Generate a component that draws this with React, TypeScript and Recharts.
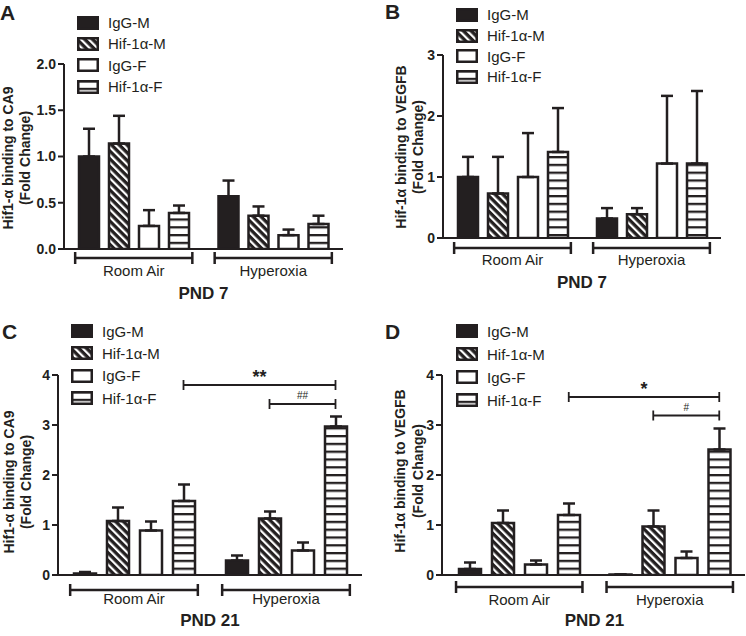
import React from 'react'
import { BarChart, Bar, XAxis, YAxis, ErrorBar, Legend, ReferenceLine } from 'recharts'

const INK = '#231f20'
const FONT = '"Liberation Sans", Arial, Helvetica, sans-serif'

const groups = ['Room Air', 'Hyperoxia']
const seriesNames = ['IgG-M', 'Hif-1α-M', 'IgG-F', 'Hif-1α-F']
const seriesKeys = ['igm', 'hifm', 'igf', 'hiff']
const seriesFills = [INK, 'url(#diagStripe)', '#ffffff', 'url(#hStripe)']

// rows = groups (Room Air, Hyperoxia), columns = series
const ca9Pnd7Mean = [
  [1.0, 1.14, 0.25, 0.39],
  [0.57, 0.36, 0.15, 0.27],
]
const ca9Pnd7Sem = [
  [0.3, 0.3, 0.17, 0.08],
  [0.17, 0.1, 0.06, 0.09],
]
const vegfbPnd7Mean = [
  [1.0, 0.73, 1.0, 1.41],
  [0.32, 0.39, 1.22, 1.22],
]
const vegfbPnd7Sem = [
  [0.33, 0.6, 0.72, 0.72],
  [0.17, 0.1, 1.11, 1.19],
]
const ca9Pnd21Mean = [
  [0.03, 1.08, 0.89, 1.48],
  [0.29, 1.13, 0.49, 2.97],
]
const ca9Pnd21Sem = [
  [0.03, 0.27, 0.18, 0.33],
  [0.1, 0.14, 0.16, 0.2],
]
const vegfbPnd21Mean = [
  [0.12, 1.04, 0.21, 1.2],
  [0.01, 0.97, 0.34, 2.51],
]
const vegfbPnd21Sem = [
  [0.13, 0.25, 0.08, 0.23],
  [0, 0.32, 0.13, 0.42],
]

const ticksPnd7Ca9 = [0, 0.5, 1, 1.5, 2]
const ticksPnd7Vegfb = [0, 1, 2, 3]
const ticksPnd21 = [0, 1, 2, 3, 4]

// significance brackets: from [group, series] to [group, series] at height y
const ca9Pnd21Sig = [
  { from: [0, 3], to: [1, 3], y: 3.8, mark: '**' },
  { from: [1, 1], to: [1, 3], y: 3.42, mark: '##' },
]
const vegfbPnd21Sig = [
  { from: [0, 3], to: [1, 3], y: 3.56, mark: '*' },
  { from: [1, 1], to: [1, 3], y: 3.19, mark: '#' },
]

function buildRows(means: number[][], sems: number[][]) {
  return groups.map((g, gi) => {
    const row: any = { group: g }
    seriesKeys.forEach((k, si) => {
      row[k] = means[gi][si]
      row[k + 'Err'] = [0, sems[gi][si]]
    })
    return row
  })
}

const W = 373
const H = 318
const X_AXIS_H = 60

const panels = [
  {
    letter: 'A', left: 0, top: 0, letterX: 0, letterY: 2,
    plotLeft: 64, plotRight: 343, plotTop: 64, plotBottom: 249, padLeft: 0,
    barSize: 20, barGap: 10, domain: [0, 2], ticks: ticksPnd7Ca9, decimals: 1,
    rows: buildRows(ca9Pnd7Mean, ca9Pnd7Sem), sig: [] as any[],
    yLabel: ['Hif1-α binding to CA9', '(Fold Change)'], yLabelX: [13, 30], yLabelCY: 158,
    bracketDy: 9, labelDy: 27, title: 'PND 7', titleDy: 50,
    legendX: 77, legendY: 12, legendRow: 21.3,
  },
  {
    letter: 'B', left: 373, top: 0, letterX: 12, letterY: 1,
    plotLeft: 70, plotRight: 348, plotTop: 55, plotBottom: 238, padLeft: 0,
    barSize: 20, barGap: 10, domain: [0, 3], ticks: ticksPnd7Vegfb, decimals: 0,
    rows: buildRows(vegfbPnd7Mean, vegfbPnd7Sem), sig: [] as any[],
    yLabel: ['Hif-1α binding to VEGFB', '(Fold Change)'], yLabelX: [33, 50], yLabelCY: 147,
    bracketDy: 10, labelDy: 27, title: 'PND 7', titleDy: 50,
    legendX: 83, legendY: 4.5, legendRow: 20.7,
  },
  {
    letter: 'C', left: 0, top: 318, letterX: 2, letterY: 3,
    plotLeft: 58, plotRight: 362, plotTop: 57, plotBottom: 257, padLeft: 0,
    barSize: 22, barGap: 11, domain: [0, 4], ticks: ticksPnd21, decimals: 0,
    rows: buildRows(ca9Pnd21Mean, ca9Pnd21Sem), sig: ca9Pnd21Sig,
    yLabel: ['Hif1-α binding to CA9', '(Fold Change)'], yLabelX: [14, 31], yLabelCY: 164,
    bracketDy: 15, labelDy: 29, title: 'PND 21', titleDy: 51,
    legendX: 71, legendY: 2, legendRow: 22.3,
  },
  {
    letter: 'D', left: 373, top: 318, letterX: 12, letterY: 3,
    plotLeft: 69, plotRight: 372, plotTop: 57, plotBottom: 257, padLeft: 2,
    barSize: 22, barGap: 11, domain: [0, 4], ticks: ticksPnd21, decimals: 0,
    rows: buildRows(vegfbPnd21Mean, vegfbPnd21Sem), sig: vegfbPnd21Sig,
    yLabel: ['Hif-1α binding to VEGFB', '(Fold Change)'], yLabelX: [32, 50], yLabelCY: 153,
    bracketDy: 12, labelDy: 30, title: 'PND 21', titleDy: 51,
    legendX: 83, legendY: 1.5, legendRow: 23,
  },
]

const markStyle: Record<string, { size: number; weight: string; dy: number }> = {
  '*': { size: 18, weight: 'bold', dy: 2 },
  '**': { size: 18, weight: 'bold', dy: 2 },
  '#': { size: 10, weight: 'normal', dy: 5 },
  '##': { size: 10, weight: 'normal', dy: 5 },
}

const Patterns = () => (
  <svg width={0} height={0} style={{ position: 'absolute' }}>
    <defs>
      <pattern id="diagStripe" patternUnits="userSpaceOnUse" width={5.5} height={5.5} patternTransform="rotate(-45)">
        <rect width={5.5} height={5.5} fill={INK} />
        <rect width={2.2} height={5.5} fill="#ffffff" />
      </pattern>
      <pattern id="hStripe" patternUnits="userSpaceOnUse" width={8} height={7.8}>
        <rect width={8} height={7.8} fill="#ffffff" />
        <rect width={8} height={2.3} fill={INK} />
      </pattern>
    </defs>
  </svg>
)

const GroupTick = (props: any) => {
  const { x, y, payload, cfg, band } = props
  const hw = band * 0.42
  const by = y + cfg.bracketDy
  return (
    <g>
      <line x1={x - hw} x2={x + hw} y1={by} y2={by} stroke={INK} strokeWidth={2.5} />
      <line x1={x - hw} x2={x - hw} y1={by - 6} y2={by + 6} stroke={INK} strokeWidth={2.5} />
      <line x1={x + hw} x2={x + hw} y1={by - 6} y2={by + 6} stroke={INK} strokeWidth={2.5} />
      <text x={x} y={y + cfg.labelDy} textAnchor="middle" fontFamily={FONT} fontSize={15} fill={INK}>
        {payload.value}
      </text>
    </g>
  )
}

const LegendBox = ({ cfg }: any) => (
  <div style={{ fontFamily: FONT, fontSize: 15, color: INK, lineHeight: 1 }}>
    {seriesNames.map((n, i) => (
      <div key={n} style={{ display: 'flex', alignItems: 'center', height: cfg.legendRow }}>
        <svg width={22} height={14} style={{ display: 'block' }}>
          <rect x={1.25} y={1.25} width={19.5} height={11.5} fill={seriesFills[i]} stroke={INK} strokeWidth={2.5} />
        </svg>
        <span style={{ marginLeft: 9, whiteSpace: 'nowrap' }}>{n}</span>
      </div>
    ))}
  </div>
)

function Panel({ cfg }: { cfg: any }) {
  const margin = {
    top: cfg.plotTop,
    right: W - cfg.plotRight,
    bottom: H - cfg.plotBottom - X_AXIS_H,
    left: 0,
  }
  const band = (cfg.plotRight - cfg.plotLeft - cfg.padLeft) / groups.length
  const pitch = cfg.barSize + cfg.barGap
  const plotMid = (cfg.plotLeft + cfg.padLeft + cfg.plotRight) / 2

  return (
    <div style={{ position: 'absolute', left: cfg.left, top: cfg.top, width: W, height: H }}>
      <div
        style={{
          position: 'absolute', left: cfg.letterX, top: cfg.letterY, zIndex: 2,
          fontFamily: FONT, fontWeight: 'bold', fontSize: 21, lineHeight: 1, color: INK,
        }}
      >
        {cfg.letter}
      </div>
      <BarChart width={W} height={H} data={cfg.rows} margin={margin} barSize={cfg.barSize} barGap={cfg.barGap}>
        <XAxis
          dataKey="group"
          height={X_AXIS_H}
          interval={0}
          tickLine={false}
          tickSize={0}
          tickMargin={0}
          axisLine={{ stroke: INK, strokeWidth: 2 }}
          padding={{ left: cfg.padLeft, right: 0 }}
          tick={<GroupTick cfg={cfg} band={band} />}
          label={{
            content: () => (
              <text
                x={plotMid}
                y={cfg.plotBottom + cfg.titleDy}
                textAnchor="middle"
                fontFamily={FONT}
                fontWeight="bold"
                fontSize={17}
                fill={INK}
              >
                {cfg.title}
              </text>
            ),
          }}
        />
        <YAxis
          width={cfg.plotLeft}
          domain={cfg.domain}
          ticks={cfg.ticks}
          interval={0}
          allowDataOverflow
          tickSize={6}
          tickMargin={2}
          tickLine={{ stroke: INK, strokeWidth: 2 }}
          axisLine={{ stroke: INK, strokeWidth: 2 }}
          tick={{ fill: INK, fontSize: 14, fontWeight: 'bold', fontFamily: FONT }}
          tickFormatter={(v: number) => v.toFixed(cfg.decimals)}
          label={{
            content: () => (
              <g>
                {cfg.yLabel.map((line: string, i: number) => (
                  <text
                    key={i}
                    x={cfg.yLabelX[i]}
                    y={cfg.yLabelCY}
                    transform={`rotate(-90 ${cfg.yLabelX[i]} ${cfg.yLabelCY})`}
                    textAnchor="middle"
                    fontFamily={FONT}
                    fontWeight="bold"
                    fontSize={14}
                    fill={INK}
                  >
                    {line}
                  </text>
                ))}
              </g>
            ),
          }}
        />
        {seriesKeys.map((k, i) => (
          <Bar
            key={k}
            dataKey={k}
            name={seriesNames[i]}
            fill={seriesFills[i]}
            stroke={INK}
            strokeWidth={2.5}
            isAnimationActive={false}
          >
            <ErrorBar dataKey={k + 'Err'} direction="y" width={6} stroke={INK} strokeWidth={2.5} />
          </Bar>
        ))}
        {cfg.sig.map((s: any, i: number) => {
          const st = markStyle[s.mark]
          return (
            <ReferenceLine
              key={i}
              segment={[
                { x: groups[s.from[0]], y: s.y },
                { x: groups[s.to[0]], y: s.y },
              ]}
              shape={(p: any) => {
                // the segment ends sit on category centres; shift them to the bar centres
                const x1 = p.x1 + (s.from[1] - 1.5) * pitch
                const x2 = p.x2 + (s.to[1] - 1.5) * pitch
                const y = p.y1
                return (
                  <g>
                    <line x1={x1} x2={x2} y1={y} y2={y} stroke={INK} strokeWidth={1.8} />
                    <line x1={x1} x2={x1} y1={y - 5} y2={y + 5} stroke={INK} strokeWidth={1.8} />
                    <line x1={x2} x2={x2} y1={y - 5} y2={y + 5} stroke={INK} strokeWidth={1.8} />
                    <text
                      x={(x1 + x2) / 2}
                      y={y - st.dy}
                      textAnchor="middle"
                      fontFamily={FONT}
                      fontWeight={st.weight}
                      fontSize={st.size}
                      fill={INK}
                    >
                      {s.mark}
                    </text>
                  </g>
                )
              }}
            />
          )
        })}
        <Legend
          layout="vertical"
          align="center"
          verticalAlign="middle"
          wrapperStyle={{ left: cfg.legendX, top: cfg.legendY, width: 130, height: 'auto' }}
          content={() => <LegendBox cfg={cfg} />}
        />
      </BarChart>
    </div>
  )
}

export default function App() {
  return (
    <div style={{ position: 'absolute', left: 0, top: 0, width: 746, height: 636, background: '#ffffff' }}>
      <Patterns />
      {panels.map((p) => (
        <Panel key={p.letter} cfg={p} />
      ))}
    </div>
  )
}
